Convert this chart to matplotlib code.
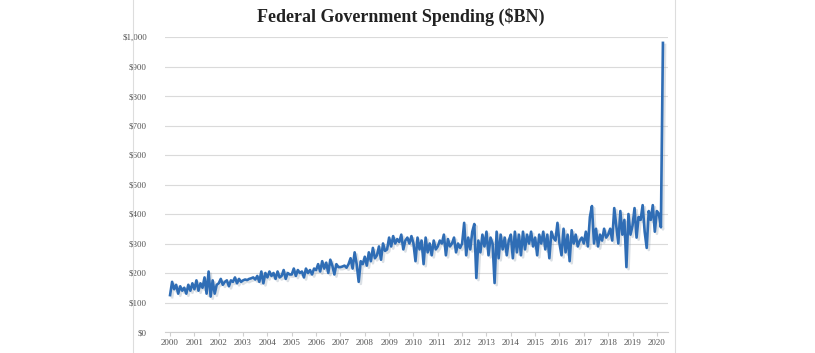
import numpy as np
import matplotlib.pyplot as plt
import matplotlib.patheffects as pe
from matplotlib.ticker import FuncFormatter

# monthly outlays, $BN (Jan 2000 .. Apr 2020)
y2000 = [125, 170, 145, 160, 130, 155, 140, 150, 130, 160, 140, 165]
y2001 = [145, 175, 140, 165, 150, 185, 130, 205, 120, 175, 130, 160]
y2002 = [165, 180, 160, 170, 175, 155, 175, 170, 185, 165, 180, 170]
y2003 = [175, 178, 176, 180, 182, 185, 178, 190, 170, 205, 165, 200]
y2004 = [185, 205, 190, 200, 180, 205, 185, 190, 210, 180, 200, 195]
y2005 = [195, 215, 190, 210, 200, 205, 185, 215, 200, 210, 195, 215]
y2006 = [210, 230, 205, 240, 215, 235, 200, 245, 225, 195, 230, 220]
y2007 = [220, 222, 225, 218, 230, 250, 215, 270, 230, 170, 240, 230]
y2008 = [255, 225, 270, 240, 285, 250, 260, 290, 245, 300, 275, 280]
y2009 = [320, 290, 325, 300, 315, 305, 330, 280, 310, 320, 300, 325]
y2010 = [300, 240, 320, 280, 310, 230, 320, 270, 300, 260, 310, 280]
y2011 = [290, 310, 300, 330, 260, 315, 290, 300, 320, 270, 300, 285]
y2012 = [300, 370, 260, 320, 280, 340, 366, 183, 310, 270, 330, 290]
y2013 = [340, 260, 320, 300, 166, 340, 250, 330, 280, 320, 260, 310]
y2014 = [330, 250, 340, 270, 330, 260, 340, 280, 330, 300, 340, 290]
y2015 = [320, 260, 330, 300, 340, 280, 330, 250, 340, 320, 310, 370]
y2016 = [300, 260, 350, 270, 330, 240, 345, 300, 330, 290, 310, 320]
y2017 = [300, 340, 290, 390, 427, 300, 350, 290, 330, 310, 350, 320]
y2018 = [330, 350, 310, 420, 360, 300, 410, 330, 380, 220, 400, 330]
y2019 = [360, 420, 320, 390, 380, 430, 340, 285, 410, 380, 430, 340]
y2020 = [410, 400, 355, 980]

spending = (y2000 + y2001 + y2002 + y2003 + y2004 + y2005 + y2006 + y2007
            + y2008 + y2009 + y2010 + y2011 + y2012 + y2013 + y2014 + y2015
            + y2016 + y2017 + y2018 + y2019 + y2020)
years = list(range(2000, 2021))
months = np.arange(len(spending))

fig = plt.figure(figsize=(8.15, 3.53), dpi=100)
ax = fig.add_axes([165/815, 1 - 332/353, (668 - 165)/815, (332 - 37)/353])

ax.plot(months, spending, color='#2F6DB5', lw=1.9, solid_joinstyle='round',
        path_effects=[pe.SimpleLineShadow(offset=(1.5, -1.5), shadow_color='#8899aa', alpha=0.3),
                      pe.Normal()])

ax.set_ylim(0, 1000)
ax.set_xlim(-2.5, 245.5)
ax.set_yticks(np.arange(0, 1001, 100))
ax.yaxis.set_major_formatter(FuncFormatter(lambda v, p: f'${v:,.0f}'))
ax.set_xticks([12 * (y - 2000) for y in years])
ax.set_xticklabels([str(y) for y in years])

ax.grid(axis='y', color='#DADADA', lw=0.8)
ax.set_axisbelow(True)
for s in ['top', 'right', 'left']:
    ax.spines[s].set_visible(False)
ax.spines['bottom'].set_color('#CFCFCF')
ax.tick_params(axis='y', length=0, pad=13, labelsize=6.5, labelcolor='#555555')
ax.tick_params(axis='x', length=3, color='#CFCFCF', pad=2, labelsize=6.5, labelcolor='#555555')
for lab in ax.get_xticklabels() + ax.get_yticklabels():
    lab.set_family('Liberation Serif')

fig.text(401/815, 1 - 17/353, 'Federal Government Spending ($BN)', ha='center', va='center',
         fontsize=13, fontweight='bold', family='Liberation Serif', color='#222222')

# chart border
fig.add_artist(plt.Line2D([133/815, 133/815], [0, 1], color='#DDDDDD', lw=0.8))
fig.add_artist(plt.Line2D([675/815, 675/815], [0, 1], color='#DDDDDD', lw=0.8))

fig.savefig('out.png', dpi=100)
